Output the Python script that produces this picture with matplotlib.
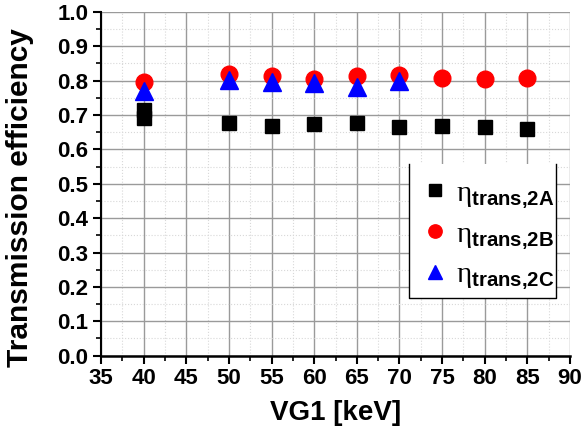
import matplotlib
matplotlib.use("Agg")
import matplotlib.pyplot as plt
from matplotlib.ticker import MultipleLocator
from matplotlib.patches import Rectangle

plt.rcParams['font.family'] = ['Liberation Sans', 'DejaVu Sans']
plt.rcParams['mathtext.fontset'] = 'custom'
plt.rcParams['mathtext.rm'] = 'Liberation Serif'
plt.rcParams['mathtext.it'] = 'Liberation Serif'
plt.rcParams['mathtext.bf'] = 'Liberation Sans:bold'

# Data
vg1_a = [40, 40, 50, 55, 60, 65, 70, 75, 80, 85]
eta_2a = [0.714, 0.691, 0.677, 0.668, 0.675, 0.678, 0.666, 0.668, 0.665, 0.660]
vg1_b = [40, 50, 55, 60, 65, 70, 75, 80, 85]
eta_2b = [0.797, 0.819, 0.813, 0.805, 0.814, 0.816, 0.808, 0.806, 0.808]
vg1_c = [40, 50, 55, 60, 65, 70]
eta_2c = [0.771, 0.802, 0.797, 0.794, 0.782, 0.800]

labels = [r'$\mathrm{\eta}_{\mathbf{trans{,}2A}}$',
          r'$\mathrm{\eta}_{\mathbf{trans{,}2B}}$',
          r'$\mathrm{\eta}_{\mathbf{trans{,}2C}}$']

fig = plt.figure(figsize=(5.84, 4.38), dpi=100)
ax = fig.add_axes([0.173, 0.188, 0.803, 0.785])

ax.plot(vg1_a, eta_2a, 's', color='black', ms=10, label=labels[0], zorder=3)
ax.plot(vg1_b, eta_2b, 'o', color='red', ms=12, label=labels[1], zorder=3)
ax.plot(vg1_c, eta_2c, '^', color='blue', ms=13, label=labels[2], zorder=4)

ax.set_xlim(35, 90)
ax.set_ylim(0, 1.0)
ax.xaxis.set_major_locator(MultipleLocator(5))
ax.xaxis.set_minor_locator(MultipleLocator(2.5))
ax.yaxis.set_major_locator(MultipleLocator(0.1))
ax.yaxis.set_minor_locator(MultipleLocator(0.05))
ax.yaxis.set_major_formatter(matplotlib.ticker.FormatStrFormatter('%.1f'))

ax.grid(which='major', color='#9a9a9a', lw=1.0, ls='-', zorder=0)
ax.grid(which='minor', color='#d8d8d8', lw=0.8, ls=':', zorder=0)
ax.set_axisbelow(True)

for s in ['top', 'right']:
    ax.spines[s].set_visible(False)
ax.spines['left'].set_linewidth(1.5)
ax.spines['bottom'].set_linewidth(1.8)

ax.tick_params(which='major', direction='out', length=6, width=1.5,
               labelsize=16, pad=3)
ax.tick_params(which='minor', direction='out', length=3.5, width=1.2)
for lab in ax.get_xticklabels() + ax.get_yticklabels():
    lab.set_fontweight('bold')

ax.set_xlabel('VG1 [keV]', fontsize=20, fontweight='bold', labelpad=8)
ax.set_ylabel('Transmission efficiency', fontsize=21.5, fontweight='bold')
ax.yaxis.set_label_coords(-0.143, 0.461)

# legend box (white fill, border on left, right and bottom)
bx0, bx1, by0, by1 = 0.657, 0.970, 0.167, 0.557
ax.add_patch(Rectangle((bx0, by0), bx1 - bx0, by1 - by0, transform=ax.transAxes,
                       facecolor='white', edgecolor='none', zorder=4.5))
ax.plot([bx0, bx0, bx1, bx1], [by1, by0, by0, by1], color='black', lw=1.0,
        transform=ax.transAxes, zorder=4.6, clip_on=False)

leg = ax.legend(loc='center left', bbox_to_anchor=(0.674, 0.351), fontsize=21,
                frameon=False, handletextpad=0.12, labelspacing=0.33,
                borderpad=0, borderaxespad=0, handlelength=1.2,
                markerscale=0.8)
leg.set_zorder(5)

fig.savefig('out.png', dpi=100)
